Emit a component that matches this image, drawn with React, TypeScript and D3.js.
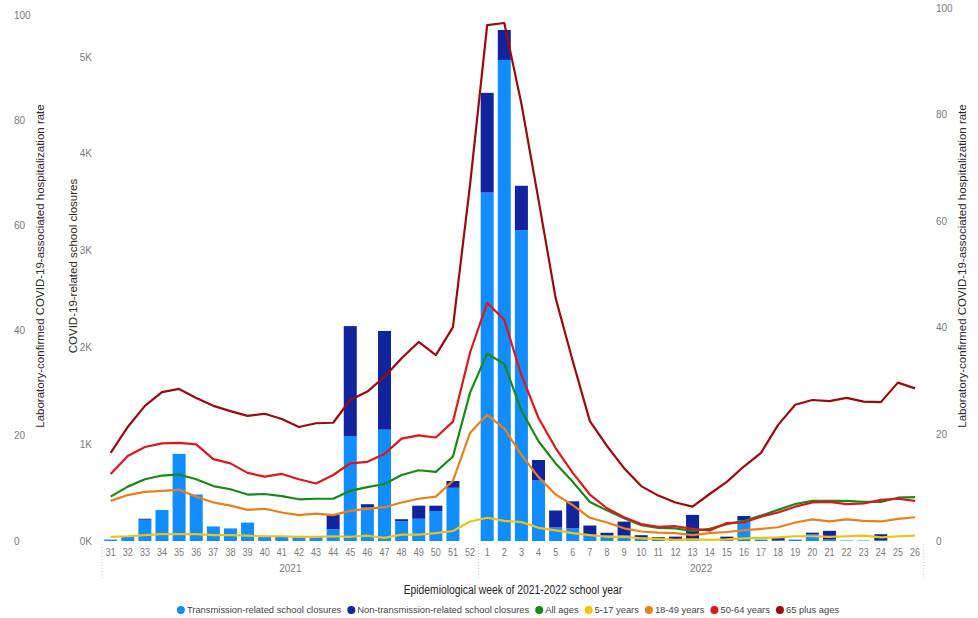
import React, { useEffect, useRef } from 'react';
import * as d3 from 'd3';

const weeks = [
  '31','32','33','34','35','36','37','38','39','40','41','42','43','44','45','46','47','48','49','50','51','52',
  '1','2','3','4','5','6','7','8','9','10','11','12','13','14','15','16','17','18','19','20','21','22','23','24','25','26'
];
const years = ['2021', '2022'];
const weeksIn2021 = 22;

const transmission = [
  15,45,220,320,900,480,150,130,190,50,50,45,45,120,1085,350,1150,205,230,310,550,0,
  3600,4970,3210,630,140,130,65,60,60,40,20,20,20,0,15,215,15,5,15,70,15,5,5,10,0,0
];
const nonTransmission = [
  0,0,10,0,0,0,0,0,0,0,0,0,0,155,1135,30,1020,20,135,55,70,0,
  1030,310,460,207,175,280,95,25,140,20,20,25,250,0,30,43,0,25,0,16,90,0,0,60,0,0
];
const allAges = [
  8.4,10.3,11.7,12.4,12.6,11.7,10.4,9.8,8.8,8.9,8.5,7.9,8.0,8.0,9.5,10.2,10.8,12.5,13.4,13.1,16.0,28.1,
  35.5,33.5,24.7,18.9,14.7,11.2,7.4,5.8,4.3,3.0,2.5,2.4,1.9,2.3,3.2,3.8,4.8,5.9,7.0,7.6,7.6,7.6,7.4,7.4,8.2,8.3
];
const age5to17 = [
  0.8,0.9,1.1,1.3,1.3,1.3,1.1,1.1,1.0,0.9,0.9,0.8,0.8,0.9,0.8,1.0,0.6,1.2,1.2,1.5,1.9,3.7,
  4.4,3.8,3.6,2.5,2.0,1.5,1.1,0.8,0.8,0.5,0.4,0.2,0.3,0.2,0.3,0.5,0.6,0.7,0.9,0.9,0.8,0.9,1.0,0.7,0.9,1.0
];
const age18to49 = [
  7.6,8.7,9.3,9.5,9.7,8.4,7.3,6.7,5.9,6.1,5.4,4.9,5.2,4.9,5.7,6.1,6.4,7.3,8.0,8.4,11.4,20.5,
  23.9,21.3,16.3,12.1,8.8,6.8,4.4,3.5,2.4,1.8,1.6,1.5,1.1,1.5,1.7,2.0,2.3,2.6,3.5,4.1,3.7,4.1,3.8,3.7,4.2,4.5
];
const age50to64 = [
  12.7,16.1,17.8,18.5,18.6,18.3,15.5,14.7,12.9,12.2,12.7,11.7,10.9,12.5,14.7,15.0,16.5,19.4,20.0,19.6,22.6,35.7,
  45.1,41.9,31.4,23.3,17.6,12.9,8.8,6.2,4.5,3.2,2.7,2.8,2.3,2.0,3.4,3.5,4.6,5.4,6.5,7.3,7.4,7.0,7.1,7.8,8.0,7.6
];
const age65plus = [
  16.7,21.6,25.6,28.2,28.8,27.1,25.6,24.6,23.7,24.1,23.1,21.6,22.3,22.4,26.7,28.3,31.1,34.6,37.7,35.2,40.5,67.5,
  97.7,98.1,82.8,64.6,46.0,34.1,22.7,18.0,13.8,10.4,8.6,7.3,6.5,8.9,11.2,14.1,16.7,22.0,25.8,26.7,26.5,27.1,26.4,26.3,30.0,28.9
];

const closureTicks = [0, 1000, 2000, 3000, 4000, 5000];
const rateTicks = [0, 20, 40, 60, 80, 100];

const lineSeries = [
  { name: 'All ages', values: allAges, color: '#178A17' },
  { name: '5-17 years', values: age5to17, color: '#F0C40C' },
  { name: '18-49 years', values: age18to49, color: '#EC8018' },
  { name: '50-64 years', values: age50to64, color: '#E0161A' },
  { name: '65 plus ages', values: age65plus, color: '#9E0A0A' },
];
const barColors = { transmission: '#118DFF', non: '#12239E' };
const legendItems = [
  { name: 'Transmission-related school closures', color: barColors.transmission },
  { name: 'Non-transmission-related school closures', color: barColors.non },
  ...lineSeries.map((s) => ({ name: s.name, color: s.color })),
];

const FONT = "'Liberation Sans', Arial, sans-serif";

export default function App() {
  const ref = useRef<SVGSVGElement>(null);

  useEffect(() => {
    const svg = d3.select(ref.current);
    svg.selectAll('*').remove();

    const W = 978, H = 618;
    const x = d3.scaleBand<string>().domain(weeks).range([102.1, 923.6]).paddingInner(0.24).paddingOuter(0.12);
    const yC = d3.scaleLinear().domain([0, 5455]).range([541, 13]);
    const yR = d3.scaleLinear().domain([0, 100]).range([541, 13]);
    const yRLeft = d3.scaleLinear().domain([0, 100]).range([541, 15]);
    const yRRight = d3.scaleLinear().domain([0, 100]).range([541, 8]);
    const cx = (w: string) => (x(w) as number) + x.bandwidth() / 2;

    svg.append('rect').attr('width', W).attr('height', H).attr('fill', '#fff');

    // bars
    const gb = svg.append('g');
    weeks.forEach((w, i) => {
      const t = transmission[i];
      const n = nonTransmission[i];
      if (t > 0) {
        gb.append('rect').attr('x', x(w) as number).attr('width', x.bandwidth())
          .attr('y', yC(t)).attr('height', yC(0) - yC(t)).attr('fill', barColors.transmission);
      }
      if (n > 0) {
        gb.append('rect').attr('x', x(w) as number).attr('width', x.bandwidth())
          .attr('y', yC(t + n)).attr('height', yC(t) - yC(t + n)).attr('fill', barColors.non);
      }
    });

    // lines
    const line = d3.line<number>().x((_, i) => cx(weeks[i])).y((d) => yR(d));
    lineSeries.forEach((s) => {
      svg.append('path').attr('d', line(s.values) as string).attr('fill', 'none')
        .attr('stroke', s.color).attr('stroke-width', 2.2).attr('stroke-linejoin', 'round');
    });

    const condense = (sel: any, f: number) => {
      const w = (sel.node() as SVGTextElement).getComputedTextLength();
      sel.attr('textLength', w * f).attr('lengthAdjust', 'spacingAndGlyphs');
      return w * f;
    };

    // axes labels
    const tickColor = '#7a7a7a';
    rateTicks.forEach((t) => {
      svg.append('text').attr('x', 14).attr('y', yRLeft(t)).attr('dy', '0.35em')
        .attr('font-size', 10).attr('font-family', FONT).attr('fill', tickColor).text(String(t));
      svg.append('text').attr('x', 936).attr('y', yRRight(t)).attr('dy', '0.35em')
        .attr('font-size', 10).attr('font-family', FONT).attr('fill', tickColor).text(String(t));
    });
    closureTicks.forEach((t) => {
      svg.append('text').attr('x', 92).attr('y', yC(t)).attr('dy', '0.35em').attr('text-anchor', 'end')
        .attr('font-size', 10).attr('font-family', FONT).attr('fill', tickColor).text(`${t / 1000}K`);
    });

    const titleColor = '#2b2b2b';
    const rateTitle = 'Laboratory-confirmed COVID-19-associated hospitalization rate';
    [[40, rateTitle], [73, 'COVID-19-related school closures'], [962, rateTitle]].forEach(([px, txt]) => {
      svg.append('text').attr('transform', `translate(${px},266) rotate(-90)`)
        .attr('text-anchor', 'middle').attr('dy', '0.35em')
        .attr('font-size', 11.5).attr('font-family', FONT).attr('fill', titleColor).text(txt as string);
    });

    // x ticks
    weeks.forEach((w) => {
      const t = svg.append('text').attr('x', cx(w)).attr('y', 556).attr('text-anchor', 'middle')
        .attr('font-size', 10).attr('font-family', FONT).attr('fill', tickColor).text(w);
      condense(t, 0.9);
    });
    const x0 = 102.1;
    const xMid = (x(weeks[weeksIn2021]) as number) - x.step() * x.paddingInner() / 2;
    const x1 = 923.6;
    [x0, xMid, x1].forEach((px) => {
      svg.append('line').attr('x1', px).attr('x2', px).attr('y1', 544).attr('y2', 580)
        .attr('stroke', '#c8c8c8').attr('stroke-dasharray', '1,2');
    });
    svg.append('text').attr('x', (x0 + xMid) / 2).attr('y', 572).attr('text-anchor', 'middle')
      .attr('font-size', 10).attr('font-family', FONT).attr('fill', tickColor).text(years[0]);
    svg.append('text').attr('x', (xMid + x1) / 2).attr('y', 572).attr('text-anchor', 'middle')
      .attr('font-size', 10).attr('font-family', FONT).attr('fill', tickColor).text(years[1]);

    const xt = svg.append('text').attr('x', 513).attr('y', 594).attr('text-anchor', 'middle')
      .attr('font-size', 12).attr('font-family', FONT).attr('fill', '#252423')
      .text('Epidemiological week of 2021-2022 school year');
    condense(xt, 0.86);

    // legend
    const lg = svg.append('g');
    let cur = 0;
    const gap = 6;
    legendItems.forEach((it) => {
      const g = lg.append('g');
      g.append('circle').attr('cx', 4).attr('cy', 0).attr('r', 4).attr('fill', it.color);
      const t = g.append('text').attr('x', 10).attr('y', 0).attr('dy', '0.35em')
        .attr('font-size', 9.4).attr('font-family', FONT).attr('fill', '#444').text(it.name);
      const tw = (t.node() as SVGTextElement).getComputedTextLength();
      g.attr('transform', `translate(${cur},0)`);
      cur += 10 + tw + gap;
    });
    const total = cur - gap;
    lg.attr('transform', `translate(${508 - total / 2},610)`);
  }, []);

  return (
    <svg ref={ref} width={978} height={618}
      style={{ position: 'absolute', left: 0, top: 0, display: 'block' }} />
  );
}
